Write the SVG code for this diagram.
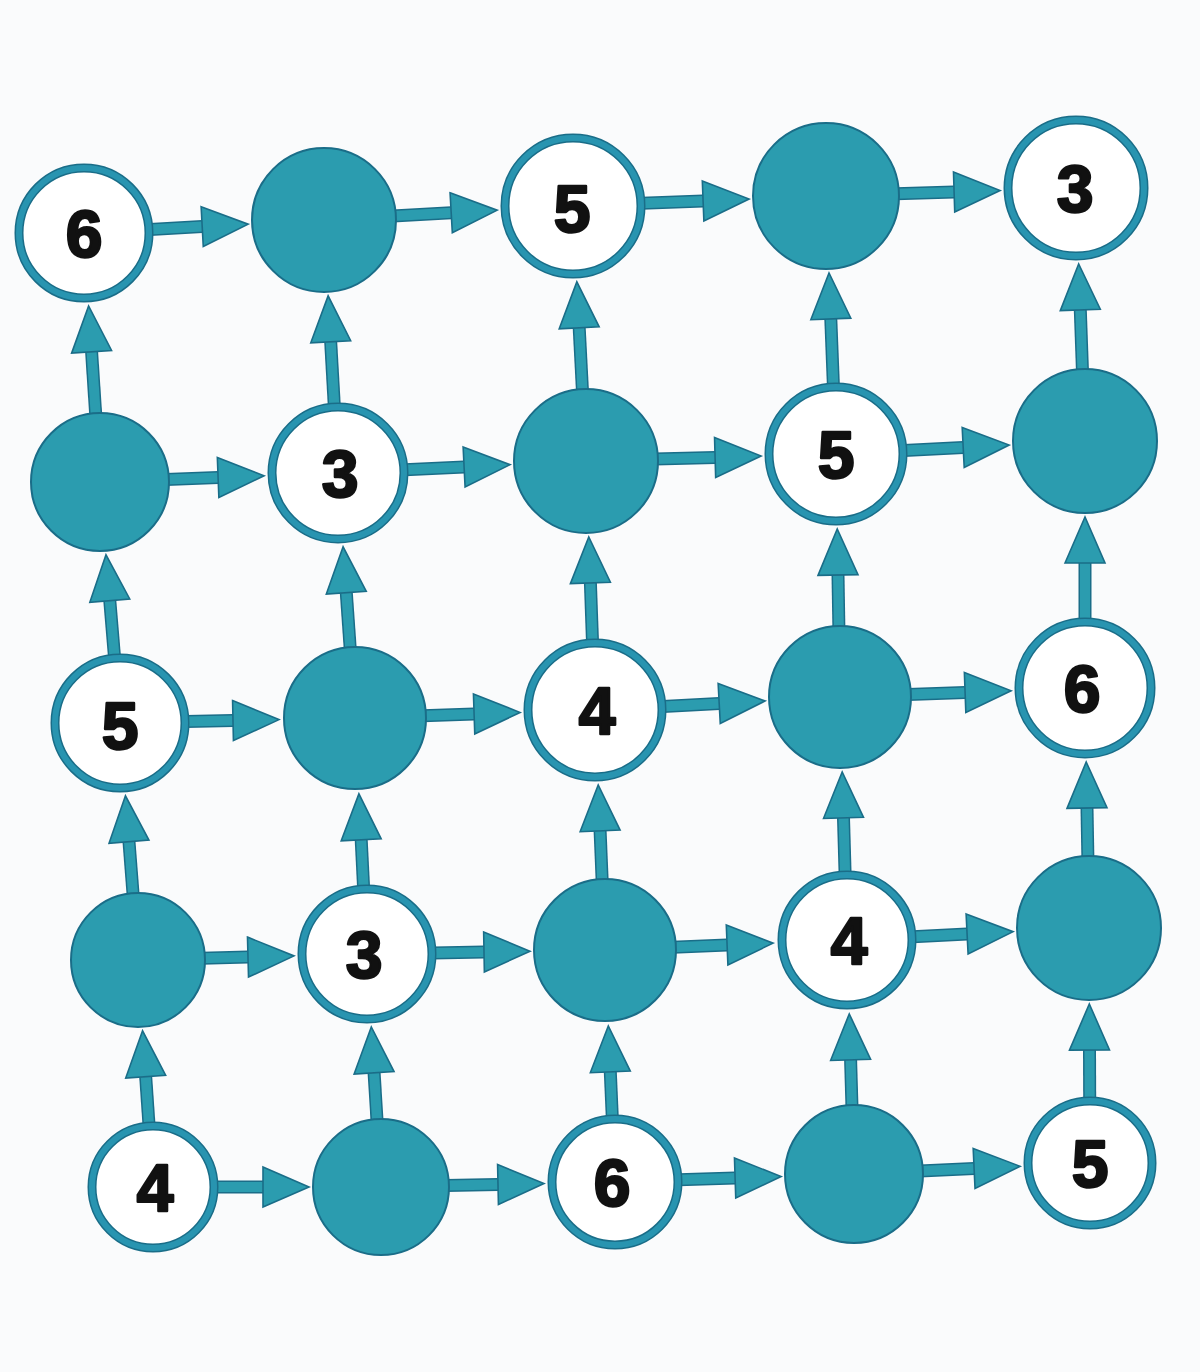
<svg xmlns="http://www.w3.org/2000/svg" width="1200" height="1372" viewBox="0 0 1200 1372">
<defs>
<style>
.bg{fill:#fafbfc}
.so{stroke:#1a6d88;stroke-width:13;fill:none}
.sf{stroke:#2b9caf;stroke-width:10;fill:none;marker-end:url(#ah)}
.ring{fill:#ffffff;stroke:#1a6d88;stroke-width:9}
.band{fill:none;stroke:#2894b0;stroke-width:6}
.dot{fill:#2b9caf;stroke:#1a6d88;stroke-width:2}
.num{font-family:"Liberation Sans",Arial,sans-serif;font-weight:700;font-size:66px;fill:#111;stroke:#111;stroke-width:2.5;stroke-linejoin:round;text-anchor:middle}
</style>
<marker id="ah" markerUnits="userSpaceOnUse" markerWidth="50" markerHeight="44" viewBox="0 0 50 44" refX="2" refY="22" orient="auto" overflow="visible">
<path d="M2,2 L48,22 L2,42 Z" fill="#2b9caf" stroke="#1a6d88" stroke-width="1.6"/>
</marker>
</defs>
<rect class="bg" x="0" y="0" width="1200" height="1372"/>
<g id="connectors">
<!-- row 1 -->
<line class="so" x1="150" y1="229.4" x2="202.2" y2="226.6"/><line class="sf" x1="150" y1="229.4" x2="202.2" y2="226.6"/>
<line class="so" x1="393" y1="216.1" x2="451.2" y2="212.8"/><line class="sf" x1="393" y1="216.1" x2="451.2" y2="212.8"/>
<line class="so" x1="642" y1="203.3" x2="703.1" y2="200.9"/><line class="sf" x1="642" y1="203.3" x2="703.1" y2="200.9"/>
<line class="so" x1="896" y1="193.7" x2="954.1" y2="191.9"/><line class="sf" x1="896" y1="193.7" x2="954.1" y2="191.9"/>
<!-- row 2 -->
<line class="so" x1="166" y1="479.5" x2="218.1" y2="477.5"/><line class="sf" x1="166" y1="479.5" x2="218.1" y2="477.5"/>
<line class="so" x1="405" y1="469.8" x2="464.1" y2="466.9"/><line class="sf" x1="405" y1="469.8" x2="464.1" y2="466.9"/>
<line class="so" x1="655" y1="459.1" x2="715.1" y2="457.4"/><line class="sf" x1="655" y1="459.1" x2="715.1" y2="457.4"/>
<line class="so" x1="904" y1="450.4" x2="963.2" y2="447.4"/><line class="sf" x1="904" y1="450.4" x2="963.2" y2="447.4"/>
<!-- row 3 -->
<line class="so" x1="186" y1="721.6" x2="233" y2="720.6"/><line class="sf" x1="186" y1="721.6" x2="233" y2="720.6"/>
<line class="so" x1="423" y1="715.7" x2="474.1" y2="714"/><line class="sf" x1="423" y1="715.7" x2="474.1" y2="714"/>
<line class="so" x1="663" y1="706.4" x2="719.2" y2="703.4"/><line class="sf" x1="663" y1="706.4" x2="719.2" y2="703.4"/>
<line class="so" x1="908" y1="694.5" x2="965.1" y2="692.4"/><line class="sf" x1="908" y1="694.5" x2="965.1" y2="692.4"/>
<!-- row 4 -->
<line class="so" x1="202" y1="958.3" x2="248" y2="957.1"/><line class="sf" x1="202" y1="958.3" x2="248" y2="957.1"/>
<line class="so" x1="433" y1="952.9" x2="484" y2="952"/><line class="sf" x1="433" y1="952.9" x2="484" y2="952"/>
<line class="so" x1="673" y1="947.2" x2="727.1" y2="945"/><line class="sf" x1="673" y1="947.2" x2="727.1" y2="945"/>
<line class="so" x1="913" y1="936.7" x2="967.1" y2="934"/><line class="sf" x1="913" y1="936.7" x2="967.1" y2="934"/>
<!-- row 5 -->
<line class="so" x1="215" y1="1187" x2="263" y2="1187"/><line class="sf" x1="215" y1="1187" x2="263" y2="1187"/>
<line class="so" x1="446" y1="1185.6" x2="498" y2="1184.5"/><line class="sf" x1="446" y1="1185.6" x2="498" y2="1184.5"/>
<line class="so" x1="679" y1="1179.8" x2="735.1" y2="1178"/><line class="sf" x1="679" y1="1179.8" x2="735.1" y2="1178"/>
<line class="so" x1="920" y1="1170.9" x2="974.1" y2="1168.4"/><line class="sf" x1="920" y1="1170.9" x2="974.1" y2="1168.4"/>
<!-- column 1 -->
<line class="so" x1="95.8" y1="416" x2="91.6" y2="351.8"/><line class="sf" x1="95.8" y1="416" x2="91.6" y2="351.8"/>
<line class="so" x1="114.5" y1="657" x2="109.8" y2="600.6"/><line class="sf" x1="114.5" y1="657" x2="109.8" y2="600.6"/>
<line class="so" x1="133.2" y1="896" x2="129" y2="841.7"/><line class="sf" x1="133.2" y1="896" x2="129" y2="841.7"/>
<line class="so" x1="149" y1="1125" x2="145.7" y2="1076.7"/><line class="sf" x1="149" y1="1125" x2="145.7" y2="1076.7"/>
<!-- column 2 -->
<line class="so" x1="334.3" y1="406" x2="330.7" y2="341.8"/><line class="sf" x1="334.3" y1="406" x2="330.7" y2="341.8"/>
<line class="so" x1="350.3" y1="650" x2="346.3" y2="592.7"/><line class="sf" x1="350.3" y1="650" x2="346.3" y2="592.7"/>
<line class="so" x1="363.6" y1="888" x2="361.2" y2="839.8"/><line class="sf" x1="363.6" y1="888" x2="361.2" y2="839.8"/>
<line class="so" x1="377.1" y1="1122" x2="374.1" y2="1072.8"/><line class="sf" x1="377.1" y1="1122" x2="374.1" y2="1072.8"/>
<!-- column 3 -->
<line class="so" x1="582.5" y1="392" x2="579.2" y2="327.8"/><line class="sf" x1="582.5" y1="392" x2="579.2" y2="327.8"/>
<line class="so" x1="592.5" y1="642" x2="590.4" y2="582.9"/><line class="sf" x1="592.5" y1="642" x2="590.4" y2="582.9"/>
<line class="so" x1="602.2" y1="882" x2="600.1" y2="830.9"/><line class="sf" x1="602.2" y1="882" x2="600.1" y2="830.9"/>
<line class="so" x1="612.3" y1="1118" x2="610.3" y2="1071.9"/><line class="sf" x1="612.3" y1="1118" x2="610.3" y2="1071.9"/>
<!-- column 4 -->
<line class="so" x1="833.4" y1="386" x2="830.8" y2="318.9"/><line class="sf" x1="833.4" y1="386" x2="830.8" y2="318.9"/>
<line class="so" x1="838.9" y1="629" x2="838" y2="575"/><line class="sf" x1="838.9" y1="629" x2="838" y2="575"/>
<line class="so" x1="845.1" y1="874" x2="843.5" y2="817.9"/><line class="sf" x1="845.1" y1="874" x2="843.5" y2="817.9"/>
<line class="so" x1="852" y1="1108" x2="850.6" y2="1059.9"/><line class="sf" x1="852" y1="1108" x2="850.6" y2="1059.9"/>
<!-- column 5 -->
<line class="so" x1="1082.5" y1="372" x2="1080.3" y2="309.9"/><line class="sf" x1="1082.5" y1="372" x2="1080.3" y2="309.9"/>
<line class="so" x1="1085" y1="621" x2="1085" y2="563"/><line class="sf" x1="1085" y1="621" x2="1085" y2="563"/>
<line class="so" x1="1087.9" y1="859" x2="1087" y2="808"/><line class="sf" x1="1087.9" y1="859" x2="1087" y2="808"/>
<line class="so" x1="1089.7" y1="1100" x2="1089.5" y2="1050"/><line class="sf" x1="1089.7" y1="1100" x2="1089.5" y2="1050"/>
</g>
<!-- row 1 -->
<g id="n11"><circle class="ring" cx="84" cy="233" r="65"/><circle class="band" cx="84" cy="233" r="65"/><text class="num" x="84" y="257">6</text></g>
<g id="n12"><circle class="dot" cx="324" cy="220" r="72"/></g>
<g id="n13"><circle class="ring" cx="573" cy="206" r="68"/><circle class="band" cx="573" cy="206" r="68"/><text class="num" x="572" y="232">5</text></g>
<g id="n14"><circle class="dot" cx="826" cy="196" r="73"/></g>
<g id="n15"><circle class="ring" cx="1076" cy="188" r="68"/><circle class="band" cx="1076" cy="188" r="68"/><text class="num" x="1075" y="212">3</text></g>
<!-- row 2 -->
<g id="n21"><circle class="dot" cx="100" cy="482" r="69"/></g>
<g id="n22"><circle class="ring" cx="338" cy="473" r="66"/><circle class="band" cx="338" cy="473" r="66"/><text class="num" x="340" y="497">3</text></g>
<g id="n23"><circle class="dot" cx="586" cy="461" r="72"/></g>
<g id="n24"><circle class="ring" cx="836" cy="454" r="67"/><circle class="band" cx="836" cy="454" r="67"/><text class="num" x="836" y="478">5</text></g>
<g id="n25"><circle class="dot" cx="1085" cy="441" r="72"/></g>
<!-- row 3 -->
<g id="n31"><circle class="ring" cx="120" cy="723" r="65"/><circle class="band" cx="120" cy="723" r="65"/><text class="num" x="120" y="749">5</text></g>
<g id="n32"><circle class="dot" cx="355" cy="718" r="71"/></g>
<g id="n33"><circle class="ring" cx="595" cy="710" r="67"/><circle class="band" cx="595" cy="710" r="67"/><text class="num" x="597" y="734">4</text></g>
<g id="n34"><circle class="dot" cx="840" cy="697" r="71"/></g>
<g id="n35"><circle class="ring" cx="1085" cy="688" r="66"/><circle class="band" cx="1085" cy="688" r="66"/><text class="num" x="1082" y="712">6</text></g>
<!-- row 4 -->
<g id="n41"><circle class="dot" cx="138" cy="960" r="67"/></g>
<g id="n42"><circle class="ring" cx="367" cy="954" r="65"/><circle class="band" cx="367" cy="954" r="65"/><text class="num" x="364" y="978">3</text></g>
<g id="n43"><circle class="dot" cx="605" cy="950" r="71"/></g>
<g id="n44"><circle class="ring" cx="847" cy="940" r="65"/><circle class="band" cx="847" cy="940" r="65"/><text class="num" x="849" y="964">4</text></g>
<g id="n45"><circle class="dot" cx="1089" cy="928" r="72"/></g>
<!-- row 5 -->
<g id="n51"><circle class="ring" cx="153" cy="1187" r="61"/><circle class="band" cx="153" cy="1187" r="61"/><text class="num" x="155" y="1211">4</text></g>
<g id="n52"><circle class="dot" cx="381" cy="1187" r="68"/></g>
<g id="n53"><circle class="ring" cx="615" cy="1182" r="63"/><circle class="band" cx="615" cy="1182" r="63"/><text class="num" x="612" y="1206">6</text></g>
<g id="n54"><circle class="dot" cx="854" cy="1174" r="69"/></g>
<g id="n55"><circle class="ring" cx="1090" cy="1163" r="62"/><circle class="band" cx="1090" cy="1163" r="62"/><text class="num" x="1090" y="1187">5</text></g>
</svg>
